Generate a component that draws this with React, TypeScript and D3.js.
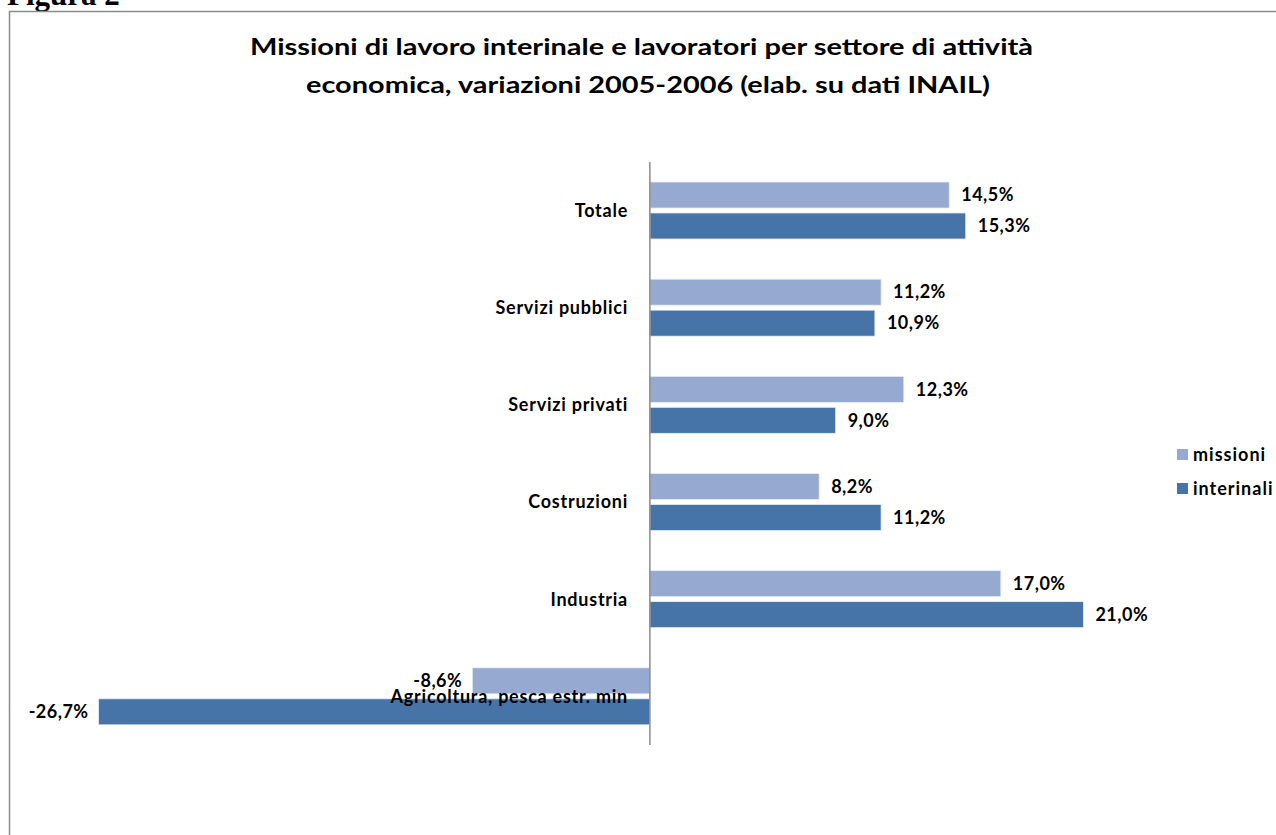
import React from "react";
import * as d3 from "d3";

const categories = [
  "Totale",
  "Servizi pubblici",
  "Servizi privati",
  "Costruzioni",
  "Industria",
  "Agricoltura, pesca estr. min",
];
const seriesNames = ["missioni", "interinali"];
const missioni = [14.5, 11.2, 12.3, 8.2, 17.0, -8.6];
const interinali = [15.3, 10.9, 9.0, 11.2, 21.0, -26.7];
const seriesColors = ["#95A9D1", "#4673A8"];
const titleLines = [
  "Missioni di lavoro interinale e lavoratori per settore di attività",
  "economica, variazioni 2005-2006 (elab. su dati INAIL)",
];

const W = 1276;
const H = 835;
const FONT = "Lato, 'Open Sans', sans-serif";

export default function App() {
  const x = d3.scaleLinear().domain([-30, 25]).range([30.5, 1166]);
  const y = d3.scaleBand<string>().domain(categories).range([162, 745]).padding(0);
  const inner = d3
    .scaleBand<string>()
    .domain(seriesNames)
    .range([20, 77])
    .paddingInner(0.16);
  const values = [missioni, interinali];
  const fmt = (v: number) => v.toFixed(1).replace(".", ",") + "%";

  return (
    <svg
      width={W}
      height={H}
      style={{ position: "absolute", left: 0, top: 0, background: "#fff" }}
    >
      <text
        x={7}
        y={5}
        fontFamily="'Liberation Serif', serif"
        fontWeight="bold"
        fontSize={31}
      >
        Figura 2
      </text>
      <rect
        x={9.5}
        y={11.5}
        width={W + 50}
        height={H + 50}
        fill="none"
        stroke="#8a8a8a"
        strokeWidth={1.5}
      />
      <text
        x={641.5}
        y={55}
        textAnchor="middle"
        fontFamily={FONT}
        fontWeight="bold"
        fontSize={23}
        textLength={783}
        lengthAdjust="spacingAndGlyphs"
      >
        {titleLines[0]}
      </text>
      <text
        x={648}
        y={93}
        textAnchor="middle"
        fontFamily={FONT}
        fontWeight="bold"
        fontSize={23}
        textLength={684}
        lengthAdjust="spacingAndGlyphs"
      >
        {titleLines[1]}
      </text>

      {categories.map((c, i) => (
        <g key={c}>
          {seriesNames.map((s, j) => {
            const v = values[j][i];
            const x0 = x(Math.min(0, v));
            const x1 = x(Math.max(0, v));
            const yy = (y(c) ?? 0) + (inner(s) ?? 0);
            const bh = inner.bandwidth();
            return (
              <g key={s}>
                <rect
                  x={x0}
                  y={yy}
                  width={x1 - x0}
                  height={bh}
                  fill={seriesColors[j]}
                  stroke="#e8edf5"
                  strokeWidth={0.8}
                />
                <text
                  x={v >= 0 ? x1 + 12 : x0 - 10}
                  y={yy + bh / 2}
                  dy="0.35em"
                  textAnchor={v >= 0 ? "start" : "end"}
                  fontFamily={FONT}
                  fontWeight="bold"
                  fontSize={18}
                  letterSpacing={0.5}
                  fill="#000"
                >
                  {fmt(v)}
                </text>
              </g>
            );
          })}
          <text
            x={628}
            y={(y(c) ?? 0) + y.bandwidth() / 2}
            dy="0.35em"
            textAnchor="end"
            fontFamily={FONT}
            fontWeight="bold"
            fontSize={18}
            letterSpacing={0.75}
            fill="#000"
          >
            {c}
          </text>
        </g>
      ))}

      <line x1={x(0)} x2={x(0)} y1={162} y2={745} stroke="#8a8a8a" strokeWidth={1.5} />

      {seriesNames.map((s, j) => (
        <g key={s} transform={`translate(1177, ${449 + j * 34})`}>
          <rect x={0} y={0} width={11} height={11} fill={seriesColors[j]} />
          <text
            x={16}
            y={5.5}
            dy="0.35em"
            fontFamily={FONT}
            fontWeight="bold"
            fontSize={18}
            letterSpacing={1}
            fill="#000"
          >
            {s}
          </text>
        </g>
      ))}
    </svg>
  );
}
